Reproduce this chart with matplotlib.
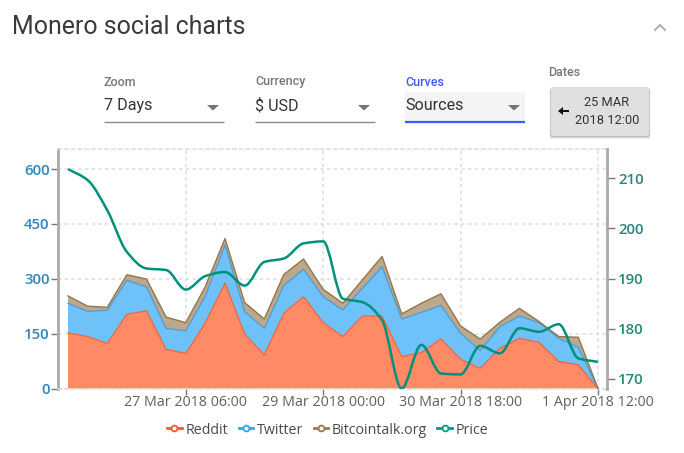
import numpy as np
import matplotlib
matplotlib.use('Agg')
import matplotlib.pyplot as plt
from matplotlib.lines import Line2D
from matplotlib.patches import FancyBboxPatch, PathPatch, Polygon
from matplotlib.path import Path

# one sample every 6 hours, tick labels sit on samples 6, 13, 20, 27
reddit = [152, 142, 123, 203, 212, 107, 96, 180, 288, 149, 92, 206, 251, 180,
          142, 198, 198, 87, 98, 135, 80, 55, 110, 137, 126, 74, 65, 0]
twitter = [81, 69, 91, 93, 66, 57, 62, 73, 104, 61, 72, 76, 75, 71,
           73, 76, 135, 103, 110, 92, 71, 49, 59, 61, 54, 63, 48, 0]
bitcointalk = [20, 14, 8, 15, 21, 31, 22, 26, 18, 25, 26, 30, 28, 20,
               18, 23, 28, 14, 25, 32, 20, 31, 12, 21, 3, 5, 27, 0]
price = [211.8, 209.6, 203.6, 195.3, 192.0, 191.7, 187.8, 190.5, 191.3, 188.6,
         193.3, 194.0, 197.0, 197.4, 186.0, 185.3, 181.7, 168.1, 176.8, 171.1,
         170.9, 176.6, 175.1, 180.1, 179.4, 180.9, 174.1, 173.4]
x_ticks = [6, 13, 20, 27]
x_labels = ['27 Mar 2018 06:00', '29 Mar 2018 00:00', '30 Mar 2018 18:00', '1 Apr 2018 12:00']
left_ticks = [0, 150, 300, 450, 600]
right_ticks = [170, 180, 190, 200, 210]

W, H = 684, 453
GRID = '#dcdcdc'
AXIS = '#aaaaaa'
BLUE_TXT = '#2f86bd'
TEAL_TXT = '#27877c'
DASH = (0, (2.2, 2.2))


def monotone_path(xs, ys):
    # same idea as a monotone spline: bezier segments, flat at local extrema
    xs = np.asarray(xs, float)
    ys = np.asarray(ys, float)
    s = np.diff(ys) / np.diff(xs)
    m = np.zeros(len(ys))
    for i in range(1, len(ys) - 1):
        if s[i - 1] * s[i] > 0:
            m[i] = 2 * s[i - 1] * s[i] / (s[i - 1] + s[i])
    m[0] = s[0]
    m[-1] = s[-1]
    verts = [(xs[0], ys[0])]
    codes = [Path.MOVETO]
    for i in range(len(xs) - 1):
        h = (xs[i + 1] - xs[i]) / 3
        verts += [(xs[i] + h, ys[i] + m[i] * h),
                  (xs[i + 1] - h, ys[i + 1] - m[i + 1] * h),
                  (xs[i + 1], ys[i + 1])]
        codes += [Path.CURVE4] * 3
    return Path(verts, codes)


fig = plt.figure(figsize=(W / 100, H / 100), dpi=100, facecolor='white')

# page furniture, in pixel coordinates
ui = fig.add_axes([0, 0, 1, 1])
ui.set_xlim(0, W)
ui.set_ylim(H, 0)
ui.axis('off')

ui.text(12, 27, 'Monero social charts', family='Roboto', fontsize=17.9, color='#3a3a3a', va='center')
ui.plot([655, 660, 665], [30, 25, 30], color='#b0b0b0', lw=1.5)

ui.add_patch(Polygon([[405, 92], [525, 92], [525, 121], [405, 121]], color='#f4f4f4', lw=0))
for x0, label, value, col, lw in [(104, 'Zoom', '7 Days', '#8a8a8a', 1),
                                  (255, 'Currency', '$ USD', '#8a8a8a', 1),
                                  (405, 'Curves', 'Sources', '#3d5afe', 1.6)]:
    ui.text(x0, 82, label, family='Roboto', fontsize=9, color=col if col != '#8a8a8a' else '#777777',
            va='center', weight='medium')
    ui.text(x0, 105.5, value, family='Roboto', fontsize=11.6, color='#333333', va='center')
    ui.plot([x0, x0 + 120], [122, 122], color=col, lw=lw, solid_capstyle='butt')
    ui.add_patch(Polygon([[x0 + 103, 105], [x0 + 115, 105], [x0 + 109, 110.5]], color='#757575', lw=0))

ui.text(548, 73, 'Dates', family='Roboto', fontsize=9, color='#777777', va='center', weight='medium')
for grow, shade in [(3, 0.12), (2, 0.18), (1, 0.3)]:
    ui.add_patch(FancyBboxPatch((551 - grow / 2, 88), 98 + grow, 48 + grow, boxstyle='round,pad=0,rounding_size=2',
                                fc='#777777', ec='none', alpha=shade))
ui.add_patch(FancyBboxPatch((551, 87), 98, 49, boxstyle='round,pad=0,rounding_size=2',
                            fc='#e0e0e0', ec='none'))
ui.add_patch(Polygon([[558, 111], [563, 107], [563, 110], [569, 110], [569, 112], [563, 112], [563, 115]],
                     color='#111111', lw=0))
ui.text(607, 102.5, '25 MAR', family='Roboto', fontsize=9.3, color='#333333', ha='center', va='center')
ui.text(607, 120.5, '2018 12:00', family='Roboto', fontsize=9.3, color='#333333', ha='center', va='center')

# chart frame runs from x=58 to x=607 and y=149 to y=388.5
ax = fig.add_axes([58 / W, 1 - 388.5 / H, (607 - 58) / W, (388.5 - 149) / H])
ax.patch.set_alpha(0)
ax.set_xlim(-0.51, 27.46)
ax.set_ylim(0, 654.7)
steps = np.arange(len(reddit))

polys = ax.stackplot(steps, reddit, twitter, bitcointalk,
                     colors=['#ff8a65', '#6ec1f9', '#bda88c'], lw=0, zorder=2)
r_top = np.array(reddit)
t_top = r_top + np.array(twitter)
b_top = t_top + np.array(bitcointalk)
ax.plot(steps, r_top, color='#f0663a', lw=0.9, zorder=3)
ax.plot(steps, t_top, color='#4d9bd0', lw=0.9, zorder=3)
ax.plot(steps, b_top, color='#8f7850', lw=1, zorder=3)

ax.set_xticks(x_ticks)
ax.set_xticklabels(x_labels, family='Open Sans', fontsize=10.3, color='#606060')
ax.set_yticks(left_ticks)
ax.set_yticklabels(left_ticks, family='Open Sans', fontsize=10.8, color=BLUE_TXT, weight=600)
ax.tick_params(axis='x', length=4, width=1, color='#777777', pad=1)
ax.tick_params(axis='y', length=5, width=1, color='#777777', pad=1)
ax.grid(True, color=GRID, ls=DASH, lw=1.1, zorder=1)
ax.set_axisbelow(True)
for side in ['top', 'bottom']:
    ax.spines[side].set_color(GRID)
    ax.spines[side].set_linestyle(DASH)
    ax.spines[side].set_linewidth(1.1)
ax.spines['left'].set_color(AXIS)
ax.spines['left'].set_linewidth(2)
ax.spines['right'].set_visible(False)

price_ax = ax.twinx()
price_ax.set_ylim(168.1, 215.8)
price_ax.add_patch(PathPatch(monotone_path(steps, price), fc='none', ec='#00917c', lw=1.8, zorder=5))
price_ax.set_yticks(right_ticks)
price_ax.set_yticklabels(right_ticks, family='Open Sans', fontsize=10.8, color=TEAL_TXT, weight=600)
price_ax.tick_params(axis='y', length=6, width=1, color='#777777', pad=2)
for side in ['top', 'bottom', 'left']:
    price_ax.spines[side].set_visible(False)
price_ax.spines['right'].set_color(AXIS)
price_ax.spines['right'].set_linewidth(2)

handles = [Line2D([], [], color=c, lw=2, marker='o', ms=4.2, mfc='white', mec=c, mew=1.3)
           for c in ['#ff5722', '#2ea6f5', '#947a52', '#009b85']]
leg = fig.legend(handles, ['Reddit', 'Twitter', 'Bitcointalk.org', 'Price'], ncol=4, frameon=False,
                 loc='center', bbox_to_anchor=(328 / W, 1 - 430 / H),
                 prop={'family': 'Open Sans', 'size': 10.3}, handlelength=1.0, handletextpad=0.3,
                 columnspacing=0.7, labelcolor='#4a4a4a')

fig.savefig('out.png', dpi=100)
